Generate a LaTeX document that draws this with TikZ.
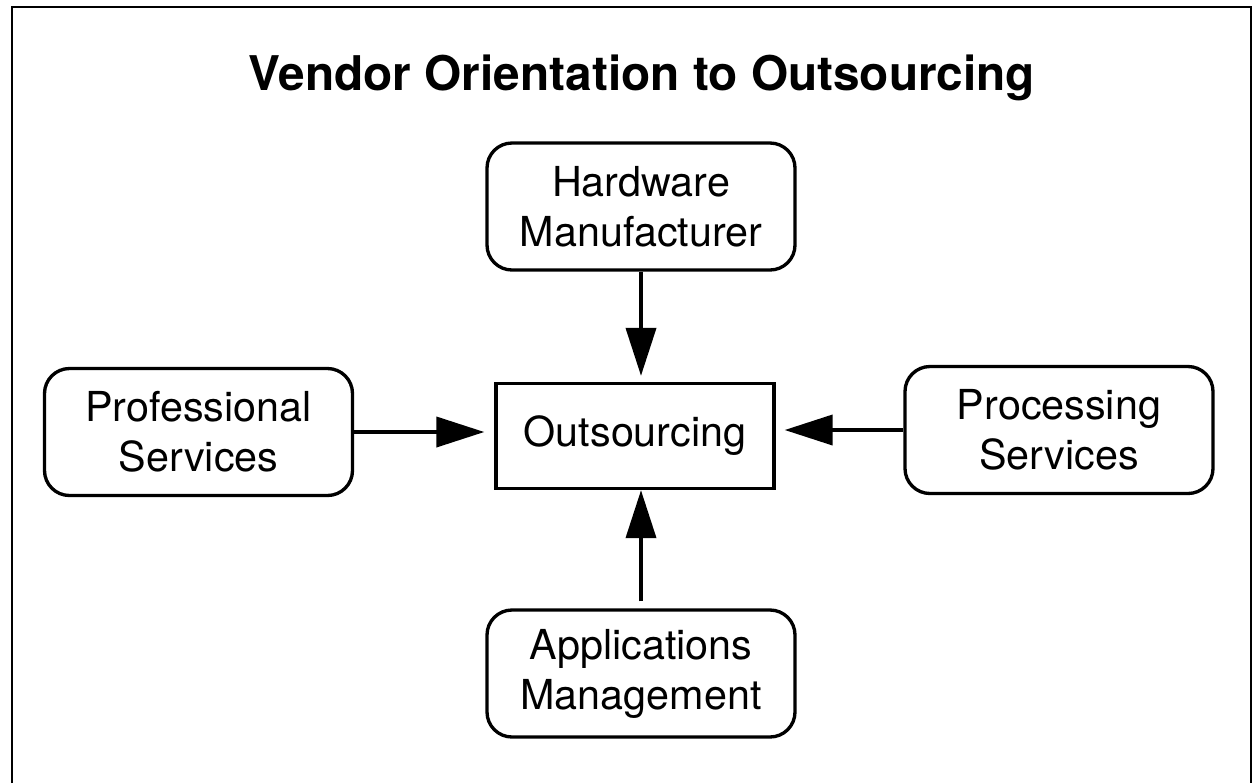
\documentclass[tikz,border=0pt]{standalone}
\usepackage{fontspec}
\setmainfont{TeX Gyre Heros}
\usetikzlibrary{arrows.meta}

\begin{document}
\begin{tikzpicture}[
	vendor/.style={draw,rounded corners=0.5cm,line width=1.9pt,align=center,minimum width=6.16cm,minimum height=2.54cm,font=\fontsize{23.5}{28.5}\selectfont},
	feed/.style={line width=2.2pt,-{Triangle[length=0.96cm,width=0.6cm]}}
]
	\useasboundingbox (0,0) rectangle (25.16,-15.66);
	\draw[line width=1.4pt] (0.24,-15.66) -- (0.24,-0.14) -- (25.02,-0.14) -- (25.02,-15.66);
	\node[anchor=base,font=\fontsize{27.2}{32}\selectfont\bfseries] (title) at (12.84,-1.80) {Vendor Orientation to Outsourcing};
	\node[draw,line width=1.9pt,minimum width=5.56cm,minimum height=2.1cm,font=\fontsize{23.5}{28.5}\selectfont] (out) at (12.70,-8.72) {Outsourcing};
	\node[vendor] (hw) at (12.82,-4.13) {Hardware\\Manufacturer};
	\node[vendor] (prof) at (3.97,-8.64) {Professional\\Services};
	\node[vendor] (proc) at (21.18,-8.60) {Processing\\Services};
	\node[vendor] (apps) at (12.82,-13.47) {Applications\\Management};
	\draw[feed,shorten >=0.12cm] (hw.south) -- (hw.south |- out.north);
	\draw[feed,shorten >=0.2cm] (prof.east) -- (prof.east -| out.west);
	\draw[feed,shorten >=0.18cm] (proc.west) -- (proc.west -| out.east);
	\draw[feed,shorten <=0.14cm] (apps.north) -- (apps.north |- out.south);
\end{tikzpicture}
\end{document}
